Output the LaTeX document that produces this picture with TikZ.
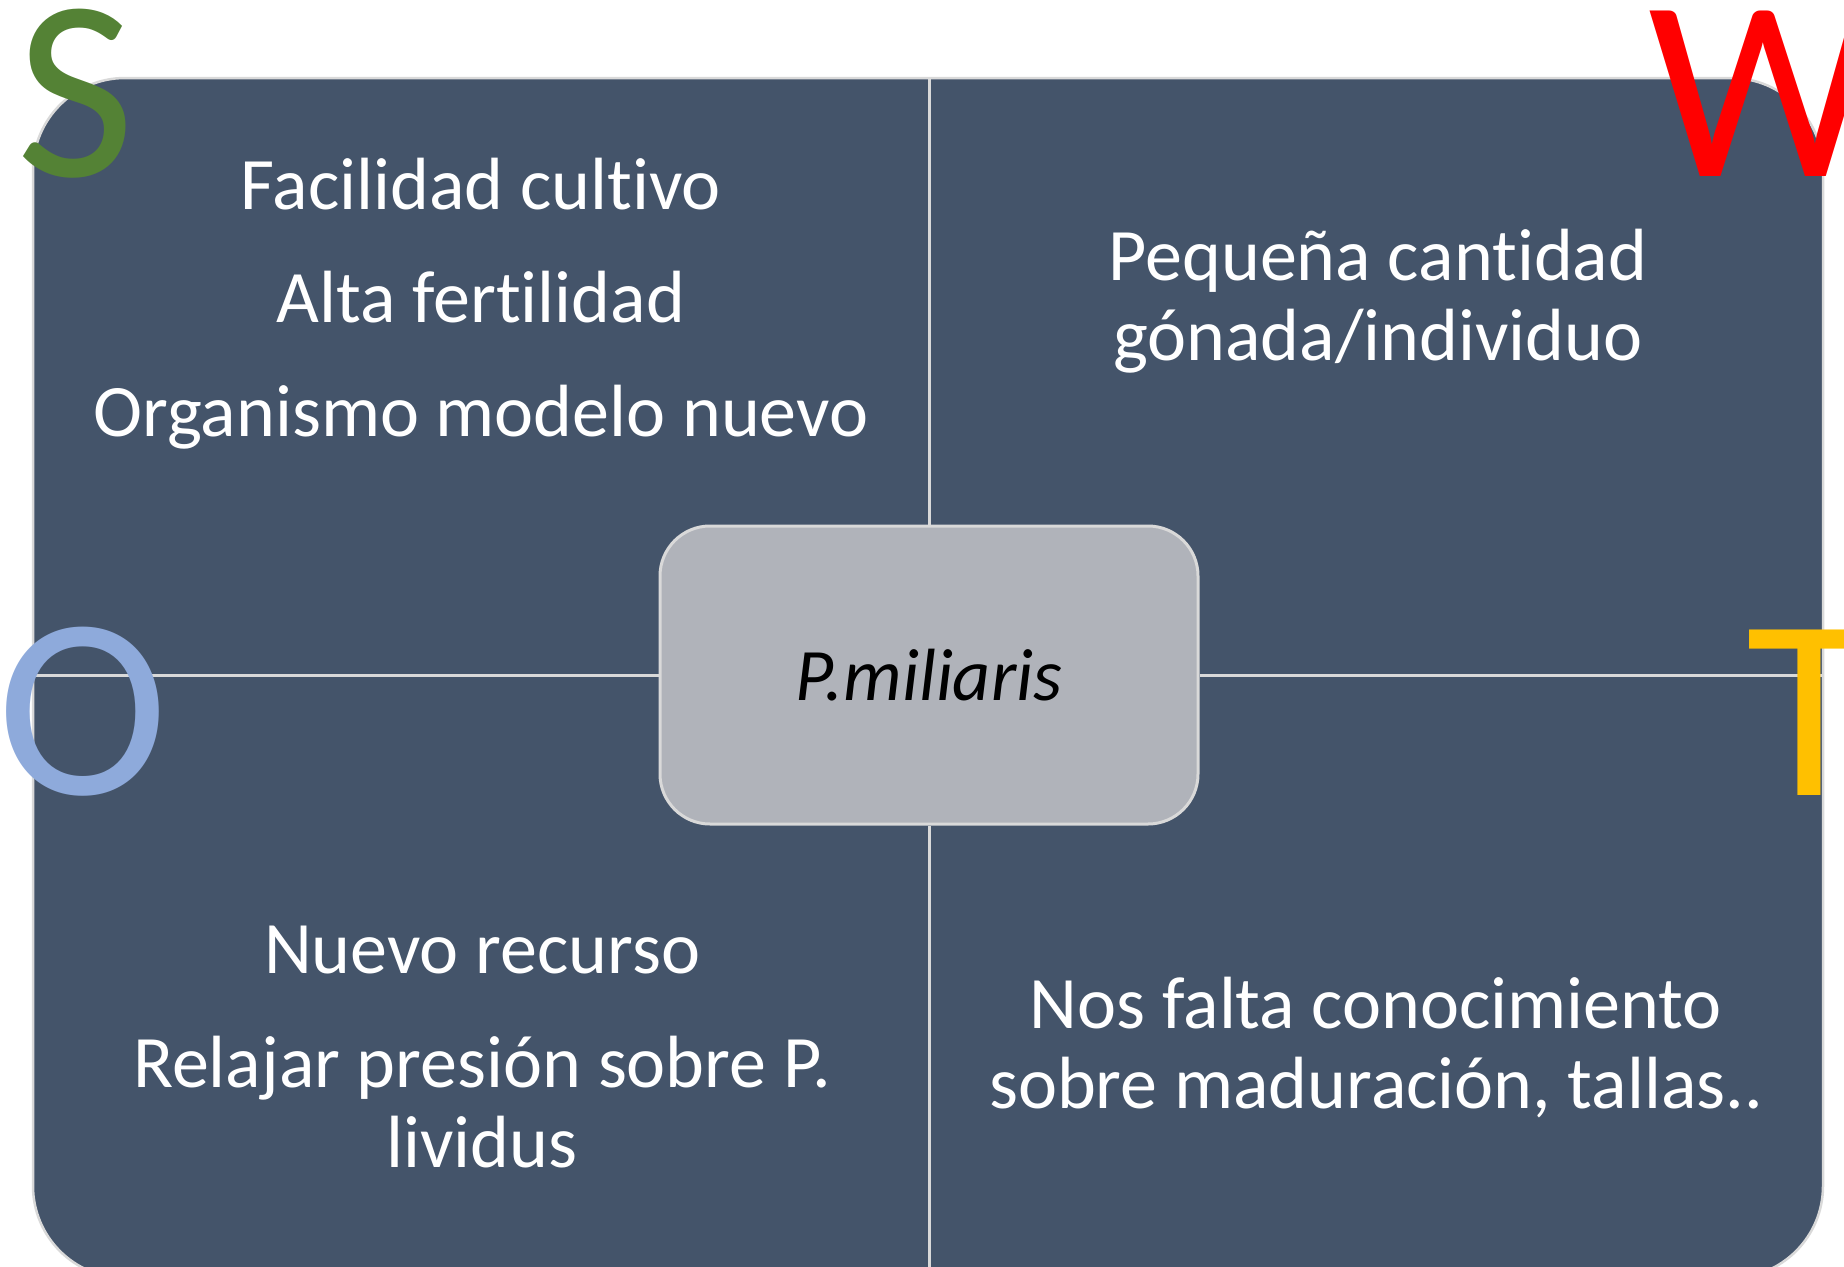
\documentclass[tikz,border=0pt]{standalone}
\usepackage{fontspec}
\setmainfont[Ligatures=NoCommon]{Carlito}
\usetikzlibrary{positioning}

\definecolor{swotblue}{HTML}{44546A}
\definecolor{framegray}{HTML}{D9D9D9}
\definecolor{hubgray}{HTML}{B0B3BA}
\definecolor{swotgreen}{HTML}{548235}
\definecolor{swotred}{HTML}{FF0000}
\definecolor{swotsky}{HTML}{8EAADB}
\definecolor{swotgold}{HTML}{FFC000}

\begin{document}
\begin{tikzpicture}[x=1pt, y=-1pt,
    quadtext/.style={text=white, align=center, anchor=base, inner sep=0pt,
      font=\fontsize{74}{80}\selectfont},
    bigletter/.style={anchor=base, inner sep=0pt,
      font=\fontsize{258}{260}\selectfont},
    divider/.style={draw=framegray, line width=3pt}]

  \useasboundingbox (0,0) rectangle (1844,1266);

  % Frame of the matrix
  \node[draw=framegray, line width=2.5pt, fill=swotblue, rounded corners=92pt,
        minimum width=1790pt, minimum height=1200pt, inner sep=0pt] (frame) at (928,678) {};

  % Centre box
  \node[draw=framegray, line width=3pt, fill=hubgray, rounded corners=50pt,
        minimum width=538pt, minimum height=298pt,
        font=\fontsize{74}{80}\selectfont\itshape] (hub) at (929,675) {P.miliaris};

  % Dividers, from the centre box out to the frame
  \draw[divider] (hub.north) -- (hub.north |- frame.north);
  \draw[divider] (hub.south) -- (hub.south |- frame.south);
  \draw[divider] (hub.west) -- (hub.west -| frame.west);
  \draw[divider] (hub.east) -- (hub.east -| frame.east);

  % Quadrant texts (anchored on the baseline of the last line)
  \node[quadtext] (strengths) at (481,436)
    {Facilidad cultivo\\[33.5pt] Alta fertilidad\\[33.5pt] Organismo modelo nuevo};
  \node[quadtext] (weaknesses) at (1378,360)
    {Pequeña cantidad\\ gónada/individuo};
  \node[quadtext] (opportunities) at (482,1167)
    {Nuevo recurso\\[34pt] Relajar presión sobre P.\\ lividus};
  \node[quadtext] (threats) at (1376,1108)
    {Nos falta conocimiento\\ sobre maduración, tallas..};

  % SWOT letters
  \node[bigletter, text=swotgreen] (letterS) at (76,176) {S};
  \node[bigletter, text=swotred] (letterW) at (1763,176) {W};
  \node[bigletter, text=swotsky] (letterO) at (83,794) {O};
  \node[bigletter, text=swotgold] (letterT) at (1809,795) {T};

\end{tikzpicture}
\end{document}
